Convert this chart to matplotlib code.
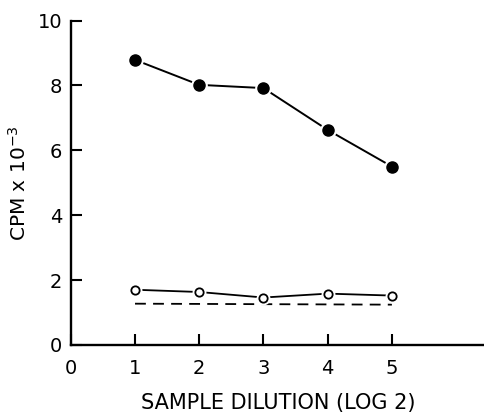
import numpy as np
import matplotlib
matplotlib.use("Agg")
import matplotlib.pyplot as plt

plt.rcParams['font.family'] = ['DejaVu Sans']

# data
dilution = [1, 2, 3, 4, 5]
cpm_filled = [8.79, 8.02, 7.92, 6.63, 5.50]
cpm_open = [1.70, 1.63, 1.46, 1.58, 1.52]
background_x = [1, 5]
background_y = [1.27, 1.24]

xticks = [0, 1, 2, 3, 4, 5]
yticks = [0, 2, 4, 6, 8, 10]

fig = plt.figure(figsize=(4.85, 4.13), dpi=100)
ax = fig.add_axes([0.146, 0.165, 0.854, 0.785])

# lines
ax.plot(dilution, cpm_filled, color='black', lw=1.4, zorder=2)
ax.plot(dilution, cpm_open, color='black', lw=1.3, zorder=2)
ax.plot(background_x, background_y, color='black', lw=1.3,
        dashes=(6, 4), zorder=2)

# white halo so line ends stop short of the markers
ax.plot(dilution, cpm_filled, 'o', ms=11, color='white', mec='white', zorder=3)
ax.plot(dilution, cpm_open, 'o', ms=9, color='white', mec='white', zorder=3)
ax.plot(dilution, cpm_filled, 'o', ms=8, color='black', mec='black', zorder=4)
ax.plot(dilution, cpm_open, 'o', ms=6, mfc='white', mec='black', mew=1.3, zorder=4)

ax.set_xlim(0, 6.45)
ax.set_ylim(0, 10)
ax.set_xticks(xticks)
ax.set_yticks(yticks)
ax.spines['top'].set_visible(False)
ax.spines['right'].set_visible(False)
for s in ('left', 'bottom'):
    ax.spines[s].set_linewidth(1.7)
ax.tick_params(direction='in', length=8, width=1.5, labelsize=14)
ax.tick_params(axis='x', pad=10)
ax.tick_params(axis='y', pad=6)

ax.set_xlabel('SAMPLE DILUTION (LOG 2)', fontsize=15, labelpad=11)
ax.set_ylabel(r'CPM x 10$^{-3}$', fontsize=14.5, labelpad=6)

fig.savefig('out.png', dpi=100)
